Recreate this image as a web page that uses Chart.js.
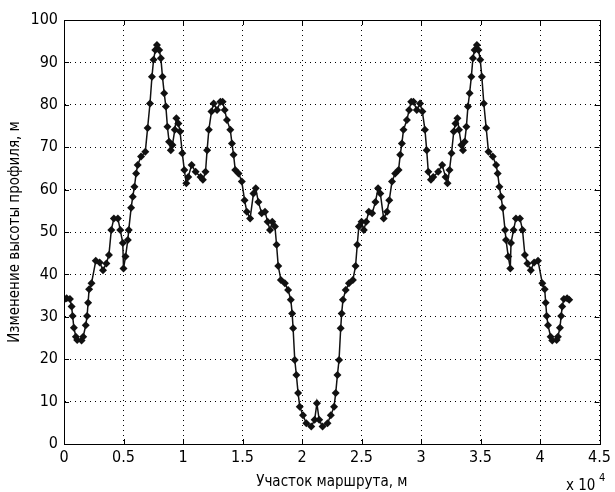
<!DOCTYPE html>
<html lang="ru">
<head>
    <meta charset="utf-8">
    <title>Профиль маршрута</title>
    <script src="https://cdn.jsdelivr.net/npm/chart.js"></script>
    <style>
        body { margin: 0; background: #fff; }
        canvas { display: block; }
    </style>
</head>
<body>
    <canvas id="profileChart" width="615" height="492"></canvas>
    <script>
        // distance along the route, m
        const distance = [
            0, 225, 500, 640, 725, 830, 1000, 1110, 1475, 1610,
            1830, 1940, 2025, 2110, 2310, 2670, 3000, 3275, 3560, 3775,
            3975, 4190, 4525, 4725, 4940, 5000, 5170, 5360, 5440, 5640,
            5775, 5920, 6060, 6190, 6475, 6830, 7025, 7225, 7390, 7525,
            7670, 7810, 8000, 8140, 8275, 8420, 8560, 8690, 8830, 8975,
            9110, 9310, 9440, 9610, 9750, 9940, 10110, 10275, 10440, 10725,
            11060, 11475, 11670, 11890, 12025, 12170, 12390, 12580, 12860, 13140,
            13330, 13500, 13690, 13975, 14110, 14250, 14390, 14670, 14940, 15170,
            15360, 15640, 15920, 16110, 16330, 16610, 16890, 17110, 17310, 17500,
            17725, 17860, 18000, 18225, 18560, 18830, 19060, 19170, 19250, 19390,
            19525, 19670, 19810, 20080, 20360, 20775, 21060, 21250,
            21440, 21725, 22140, 22420, 22690, 22830, 22975, 23110, 23250, 23330,
            23440, 23670, 23940, 24275, 24500, 24640, 24775, 25000, 25190, 25390,
            25610, 25890, 26170, 26390, 26580, 26860, 27140, 27330, 27560, 27830,
            28110, 28250, 28390, 28525, 28810, 29000, 29170, 29360, 29640, 29920,
            30110, 30330, 30475, 30610, 30830, 31025, 31440, 31775, 32060, 32225,
            32390, 32560, 32750, 32890, 33060, 33190, 33390, 33525, 33670, 33810,
            33940, 34080, 34225, 34360, 34500, 34690, 34830, 34975, 35110, 35275,
            35475, 35670, 36025, 36310, 36440, 36580, 36725, 36860, 37060, 37140,
            37330, 37500, 37560, 37775, 37975, 38310, 38525, 38725, 38940, 39225,
            39500, 39830, 40190, 40390, 40475, 40560, 40670, 40890, 41025, 41390,
            41500, 41670, 41775, 41860, 42000, 42275, 42450
        ];

        // elevation change, m
        const elevation = [
            34, 34.4, 34.2, 32.4, 30.2, 27.4, 25.3, 24.5, 24.4, 25.3,
            28, 30.2, 33.3, 36.5, 37.9, 43.2, 42.8, 41, 42.6, 44.6,
            50.5, 53.2, 53.2, 50.5, 47.4, 41.4, 44.2, 48.1, 50.5, 55.7,
            58.3, 60.7, 63.8, 65.8, 67.8, 68.9, 74.5, 80.3, 86.6, 90.6,
            92.9, 94.1, 92.9, 91, 86.6, 82.7, 79.6, 74.8, 71.3, 69.3,
            70.5, 74.1, 76.8, 75.6, 73.7, 68.6, 64.6, 61.5, 63, 65.8,
            64.2, 63, 62.3, 64.2, 69.3, 74.1, 78.4, 80.3, 78.8, 80.7,
            80.7, 78.8, 76.4, 74.1, 70.9, 68.2, 64.6, 63.8, 61.9, 57.5,
            54.8, 53.2, 59.1, 60.3, 57.1, 54.4, 54.8, 52.4, 50.5, 52.4,
            51.3, 47, 42, 38.7, 37.9, 36.3, 34, 30.8, 27.3, 19.8,
            16.3, 12, 8.8, 6.8, 4.9, 4.1, 5.7, 9.6,
            5.7, 4.1, 4.9, 6.8, 8.8, 12, 16.3, 19.8, 27.3, 30.8,
            34, 36.3, 37.9, 38.7, 42, 47, 51.3, 52.4, 50.5, 52.4,
            54.8, 54.4, 57.1, 60.3, 59.1, 53.2, 54.8, 57.5, 61.9, 63.8,
            64.6, 68.2, 70.9, 74.1, 76.4, 78.8, 80.7, 80.7, 78.8, 80.3,
            78.4, 74.1, 69.3, 64.2, 62.3, 63, 64.2, 65.8, 63, 61.5,
            64.6, 68.6, 73.7, 75.6, 76.8, 74.1, 70.5, 69.3, 71.3, 74.8,
            79.6, 82.7, 86.6, 91, 92.9, 94.1, 92.9, 90.6, 86.6, 80.3,
            74.5, 68.9, 67.8, 65.8, 63.8, 60.7, 58.3, 55.7, 50.5, 48.1,
            44.2, 41.4, 47.4, 50.5, 53.2, 53.2, 50.5, 44.6, 42.6, 41,
            42.8, 43.2, 37.9, 36.5, 33.3, 30.2, 28, 25.3, 24.4, 24.5,
            25.3, 27.4, 30.2, 32.4, 34.2, 34.4, 34
        ];

        const xTicks = ['0', '0.5', '1', '1.5', '2', '2.5', '3', '3.5', '4', '4.5'];
        const yTicks = [0, 10, 20, 30, 40, 50, 60, 70, 80, 90, 100];

        const family = '"Liberation Sans Narrow", "DejaVu Sans Condensed", "Liberation Sans", Arial, sans-serif';
        const tickFont = { family: family, size: 16 };
        const titleFont = { family: family, size: 15 };

        // box on all sides, inward ticks, and the x 10^4 exponent label
        const matlabFrame = {
            id: 'matlabFrame',
            afterDraw(chart) {
                const { ctx, chartArea: a, scales } = chart;
                ctx.save();
                ctx.strokeStyle = '#000';
                ctx.lineWidth = 1;
                ctx.setLineDash([]);
                ctx.strokeRect(Math.round(a.left) + 0.5, Math.round(a.top) + 0.5,
                    Math.round(a.right - a.left), Math.round(a.bottom - a.top));
                ctx.beginPath();
                xTicks.forEach((t, i) => {
                    const px = Math.round(scales.x.getPixelForValue(i * 5000)) + 0.5;
                    ctx.moveTo(px, a.bottom); ctx.lineTo(px, a.bottom - 5);
                    ctx.moveTo(px, a.top); ctx.lineTo(px, a.top + 5);
                });
                yTicks.forEach(v => {
                    const py = Math.round(scales.y.getPixelForValue(v)) + 0.5;
                    ctx.moveTo(a.left, py); ctx.lineTo(a.left + 5, py);
                    ctx.moveTo(a.right, py); ctx.lineTo(a.right - 5, py);
                });
                ctx.stroke();

                ctx.fillStyle = '#000';
                ctx.textBaseline = 'alphabetic';
                ctx.font = '15px ' + family;
                ctx.fillText('x 10', 566, 490);
                ctx.font = '11px ' + family;
                ctx.fillText('4', 599, 481);
                ctx.restore();
            }
        };

        new Chart(document.getElementById('profileChart'), {
            type: 'line',
            data: {
                datasets: [{
                    data: distance.map((x, i) => ({ x: x, y: elevation[i] })),
                    borderColor: '#111',
                    backgroundColor: '#111',
                    borderWidth: 1.5,
                    pointStyle: 'rectRot',
                    pointRadius: 4,
                    pointBorderWidth: 0,
                    pointBackgroundColor: '#111',
                    tension: 0,
                    fill: false
                }]
            },
            options: {
                responsive: false,
                animation: false,
                layout: { padding: { top: 20, right: 11, left: 0, bottom: 0 } },
                plugins: {
                    legend: { display: false },
                    tooltip: { enabled: false }
                },
                scales: {
                    x: {
                        type: 'linear',
                        min: 0,
                        max: 45000,
                        afterFit: s => { s.height = 48; },
                        afterBuildTicks: s => { s.ticks = xTicks.map((t, i) => ({ value: i * 5000 })); },
                        ticks: {
                            color: '#000',
                            font: tickFont,
                            padding: 4,
                            maxRotation: 0,
                            callback: (v, i) => xTicks[i]
                        },
                        grid: { color: '#000', lineWidth: 1, drawTicks: false },
                        border: { display: true, color: '#000', dash: [1, 4] },
                        title: {
                            display: true,
                            text: 'Участок маршрута, м',
                            color: '#000',
                            font: titleFont,
                            padding: { top: 0, bottom: 1 }
                        }
                    },
                    y: {
                        type: 'linear',
                        min: 0,
                        max: 100,
                        afterFit: s => { s.width = 64; },
                        afterBuildTicks: s => { s.ticks = yTicks.map(v => ({ value: v })); },
                        ticks: {
                            color: '#000',
                            font: tickFont,
                            padding: 6
                        },
                        grid: { color: '#000', lineWidth: 1, drawTicks: false },
                        border: { display: true, color: '#000', dash: [1, 4] },
                        title: {
                            display: true,
                            text: 'Изменение высоты профиля, м',
                            color: '#000',
                            font: titleFont,
                            padding: { top: 6, bottom: 0 }
                        }
                    }
                }
            },
            plugins: [matlabFrame]
        });
    </script>
</body>
</html>
